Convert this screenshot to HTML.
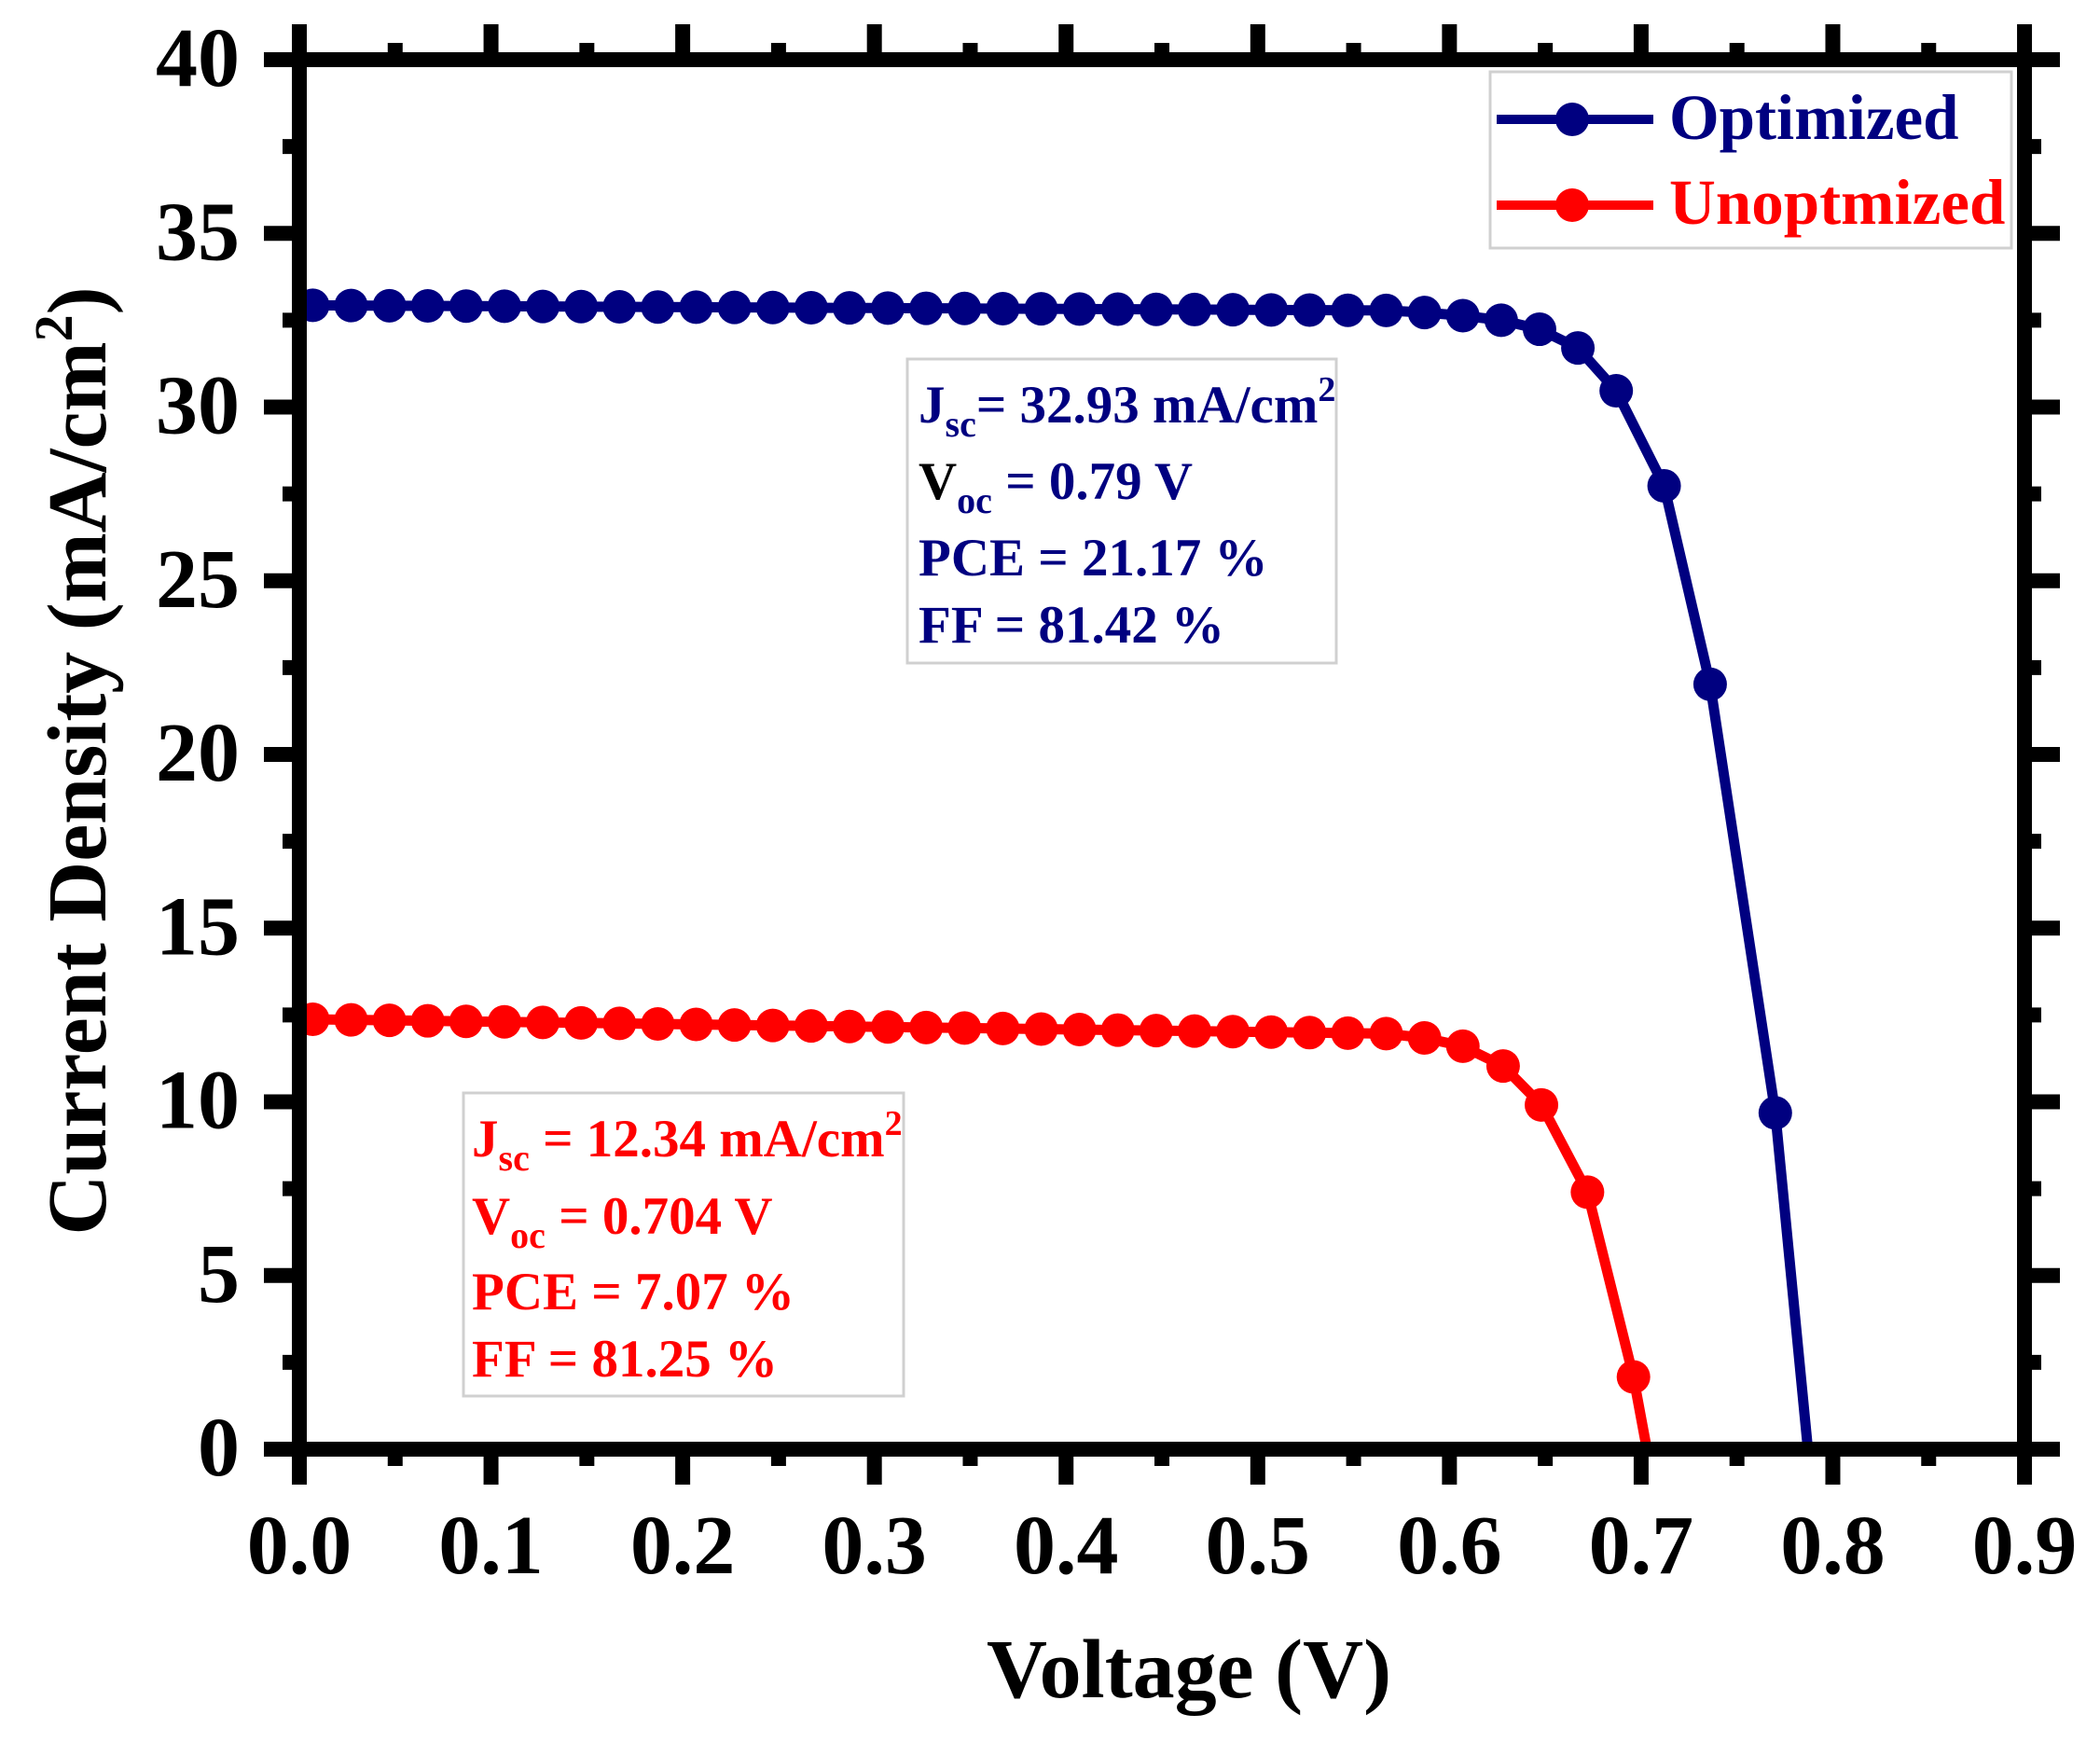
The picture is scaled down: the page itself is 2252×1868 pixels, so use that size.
<!DOCTYPE html>
<html><head><meta charset="utf-8"><style>
html,body{margin:0;padding:0;background:#fff;}
svg{display:block;}
text{font-family:"Liberation Serif",serif;font-weight:bold;}
</style></head><body>
<svg id="s" xmlns="http://www.w3.org/2000/svg" width="2252" height="1868" viewBox="0 0 2252 1868">
<rect width="2252" height="1868" fill="#fff"/>
<g id="ticks" fill="#000"></g>
<g id="data"></g>
<rect x="321" y="64" width="1850" height="1490" fill="none" stroke="#000" stroke-width="16"/>
<g id="labels" font-size="90" fill="#000"></g>
<text x="1275" y="1820" font-size="90" text-anchor="middle">Voltage (V)</text>
<text transform="translate(113,816) rotate(-90)" font-size="90" text-anchor="middle">Current Density (mA/cm<tspan font-size="58" dy="-36">2</tspan><tspan dy="36">)</tspan></text>
<rect x="1598" y="77" width="559" height="189" fill="#fff" stroke="#d0d0d0" stroke-width="3"/>
<line x1="1605" y1="128" x2="1773" y2="128" stroke="#000080" stroke-width="10"/>
<circle cx="1686" cy="128" r="18" fill="#000080"/>
<line x1="1605" y1="220" x2="1773" y2="220" stroke="#ff0000" stroke-width="10"/>
<circle cx="1686" cy="220" r="18" fill="#ff0000"/>
<text x="1790" y="149" font-size="69" fill="#000080">Optimized</text>
<text x="1790" y="240" font-size="69" fill="#ff0000">Unoptmized</text>
<rect x="973" y="385" width="460" height="326" fill="#fff" stroke="#d0d0d0" stroke-width="3"/>
<g font-size="57" fill="#000080">
<text x="985" y="453">J<tspan font-size="40" dy="15">sc</tspan><tspan dy="-15">= 32.93 mA/cm</tspan><tspan font-size="38" dy="-23">2</tspan></text>
<text x="985" y="535"><tspan fill="#000">V</tspan><tspan font-size="40" dy="15">oc</tspan><tspan dy="-15"> = 0.79 V</tspan></text>
<text x="985" y="617">PCE = 21.17 %</text>
<text x="985" y="689">FF = 81.42 %</text>
</g>
<rect x="497" y="1172" width="472" height="325" fill="#fff" stroke="#d0d0d0" stroke-width="3"/>
<g font-size="57" fill="#ff0000">
<text x="506" y="1240">J<tspan font-size="40" dy="15">sc</tspan><tspan dy="-15"> = 12.34 mA/cm</tspan><tspan font-size="38" dy="-23">2</tspan></text>
<text x="506" y="1323">V<tspan font-size="40" dy="15">oc</tspan><tspan dy="-15"> = 0.704 V</tspan></text>
<text x="506" y="1404">PCE = 7.07 %</text>
<text x="506" y="1476">FF = 81.25 %</text>
</g>
</svg>
<script>
var NS="http://www.w3.org/2000/svg";
function X(v){return 321+v*2055.6;}
function Y(j){return 1554-j*37.25;}
function el(p,t,a){var e=document.createElementNS(NS,t);for(var k in a)e.setAttribute(k,a[k]);p.appendChild(e);return e;}
var T=document.getElementById("ticks"),L=document.getElementById("labels"),D=document.getElementById("data");
for(var i=0;i<=18;i++){var x=X(i*0.05),maj=i%2==0,len=maj?38:18;
 el(T,"rect",{x:x-8,y:1554,width:16,height:len});
 el(T,"rect",{x:x-8,y:64-len,width:16,height:len});
 if(maj)el(L,"text",{x:x,y:1687,"text-anchor":"middle"}).textContent=(i/20).toFixed(1);}
for(var i=0;i<=16;i++){var y=Y(i*2.5),maj=i%2==0,len=maj?38:18;
 el(T,"rect",{x:321-len,y:y-8,width:len,height:16});
 el(T,"rect",{x:2171,y:y-8,width:len,height:16});
 if(maj)el(L,"text",{x:257,y:y+28,"text-anchor":"end"}).textContent=String(i*2.5);}
function series(pts,end,col){
 var all=pts.concat([end]);
 el(D,"polyline",{points:all.map(function(p){return X(p[0])+","+Y(p[1]);}).join(" "),fill:"none",stroke:col,"stroke-width":11,"stroke-linejoin":"round"});
 pts.forEach(function(p){el(D,"circle",{cx:X(p[0]),cy:Y(p[1]),r:18,fill:col});});}
var b=[],r=[];
for(var k=0;k<=28;k++){var v=0.007+0.02*k;b.push([v,32.93-0.15*v/0.57]);r.push([v,12.38-0.42*v/0.57]);}
b.push([0.587,32.72],[0.607,32.63],[0.627,32.5],[0.647,32.24],[0.667,31.7],[0.687,30.47],[0.712,27.73],[0.736,22.02],[0.770,9.68]);
r.push([0.587,11.84],[0.607,11.6],[0.628,11.03],[0.648,9.91],[0.672,7.4],[0.696,2.08]);
series(b,[0.787,0],"#000080");
series(r,[0.703,0],"#ff0000");
</script>
</body></html>
